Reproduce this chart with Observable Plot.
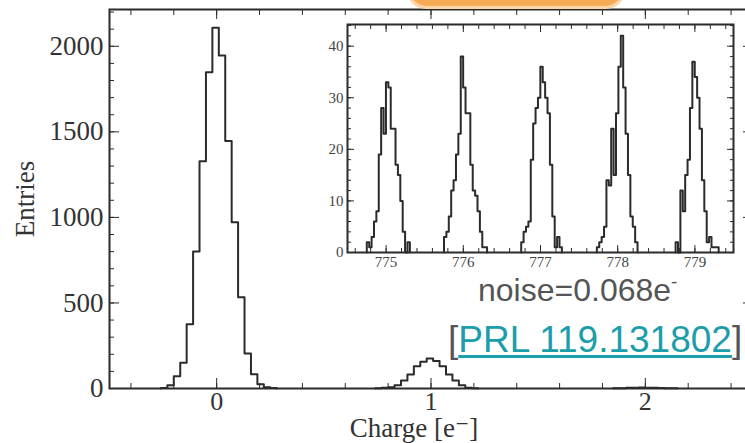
<!DOCTYPE html>
<html>
<head>
<meta charset="utf-8">
<script src="https://cdn.jsdelivr.net/npm/d3@7"></script>
<script src="https://cdn.jsdelivr.net/npm/@observablehq/plot@0.6"></script>
<style>
  html, body { margin: 0; padding: 0; background: #fff; overflow: hidden; }
  #wrap { position: relative; width: 745px; height: 443px; overflow: hidden; }
  #main, #inset { position: absolute; left: 0; top: 0; }
  #badge { position: absolute; left: 410px; top: -26px; width: 212px; height: 32px;
           border-radius: 16px; background: linear-gradient(#f39a33, #f6ae5a);
           box-shadow: 0 0 0 3px #fbd6a6; }
  .note { position: absolute; font-family: "Liberation Sans", Arial, sans-serif; white-space: nowrap; }
  #noise { left: 478px; top: 274px; font-size: 32px; line-height: 32px; color: #555; }
  #noise .sup { font-size: 19px; position: relative; top: -13px; }
  #ref { left: 448px; top: 321px; font-size: 37px; line-height: 37px; color: #555; }
  #ref a { color: #1c9dab; text-decoration: underline; text-decoration-thickness: 3px; text-underline-offset: 3px; }
</style>
</head>
<body>
<div id="wrap">
  <div id="main"></div>
  <div id="inset"></div>
  <div id="badge"></div>
  <div id="noise" class="note">noise=0.068e<span class="sup">-</span></div>
  <div id="ref" class="note">[<a>PRL 119.131802</a>]</div>
</div>
<script>
// ---------- main histogram data (bin width 0.03 e-) ----------
const mainBinWidth = 0.03;
const peak0Start = -0.26;
const peak0Counts = [3, 19, 72, 150, 375, 800, 1328, 1848, 2109, 1946, 1447, 972, 534, 204, 83, 25, 8, 3];
const peak1Start = 0.74;
const peak1Counts = [2, 4, 8, 19, 47, 82, 130, 156, 175, 160, 130, 82, 47, 19, 4, 2];
const peak2Start = 1.85;
const peak2Counts = [1, 2, 4, 5, 6, 5, 4, 3, 2, 1];

const mainXTicks = [0, 1, 2];
const mainYTicks = [0, 500, 1000, 1500, 2000];

// ---------- inset histogram data ----------
const insetBinWidth = 0.031;
const inset775Start = 774.75;
const inset775Counts = [2, 1, 3, 6, 8, 19, 28, 23, 33, 32, 24, 24, 17, 15, 10, 4, 0, 2];
const inset776Start = 775.75;
const inset776Counts = [3, 4, 7, 12, 14, 19, 23, 38, 32, 27, 27, 17, 12, 11, 8, 4, 1, 1];
const inset777Start = 776.75;
const inset777Counts = [2, 4, 5, 6, 18, 25, 28, 30, 36, 33, 30, 27, 17, 7, 1, 3, 1];
const inset778Start = 777.73;
const inset778Counts = [1, 2, 3, 5, 14, 13, 24, 15, 27, 36, 42, 32, 23, 15, 7, 5, 2];
const inset779Start = 778.75;
const inset779Counts = [2, 0, 12, 8, 15, 18, 28, 37, 34, 30, 24, 14, 8, 2, 3, 1, 1, 1];

const insetXTicks = [775, 776, 777, 778, 779];
const insetYTicks = [0, 10, 20, 30, 40];

// build step outline points from bins
function stepPoints(start, width, counts, series) {
  const pts = [{x: start, y: 0, s: series}];
  counts.forEach((c, i) => pts.push({x: start + i * width, y: c, s: series}));
  pts.push({x: start + counts.length * width, y: 0, s: series});
  return pts;
}

const mainHist = [
  ...stepPoints(peak0Start, mainBinWidth, peak0Counts, "p0"),
  ...stepPoints(peak1Start, mainBinWidth, peak1Counts, "p1"),
  ...stepPoints(peak2Start, mainBinWidth, peak2Counts, "p2")
];
const insetHist = [
  ...stepPoints(inset775Start, insetBinWidth, inset775Counts, "a"),
  ...stepPoints(inset776Start, insetBinWidth, inset776Counts, "b"),
  ...stepPoints(inset777Start, insetBinWidth, inset777Counts, "c"),
  ...stepPoints(inset778Start, insetBinWidth, inset778Counts, "d"),
  ...stepPoints(inset779Start, insetBinWidth, inset779Counts, "e")
];

const ink = "#2b2b2b";
const serif = "'Liberation Serif', 'DejaVu Serif', serif";

const mainMinorX = d3.range(-0.4, 2.45, 0.2);
const mainMinorY = d3.range(0, 2201, 100);

const main = Plot.plot({
  width: 745, height: 443,
  marginLeft: 109, marginRight: -7, marginTop: 9, marginBottom: 55,
  x: {domain: [-0.5, 2.5]},
  y: {domain: [0, 2215]},
  style: {fontFamily: serif, color: "#333", background: "transparent", overflow: "hidden"},
  marks: [
    Plot.line(mainHist, {x: "x", y: "y", z: "s", curve: "step-after", stroke: ink, strokeWidth: 2}),
    // minor ticks
    Plot.axisX({anchor: "bottom", ticks: mainMinorX, tickSize: -5, fill: "none", label: null, stroke: ink}),
    Plot.axisX({anchor: "top", ticks: mainMinorX, tickSize: -5, fill: "none", label: null, stroke: ink}),
    Plot.axisY({anchor: "left", ticks: mainMinorY, tickSize: -5, fill: "none", label: null, stroke: ink}),
    Plot.axisY({anchor: "right", ticks: mainMinorY, tickSize: -5, fill: "none", label: null, stroke: ink}),
    // major ticks
    Plot.axisX({anchor: "bottom", ticks: mainXTicks, tickSize: -10, tickPadding: 13, fontSize: 26, label: null, stroke: ink, fill: "#333", tickFormat: d => String(d)}),
    Plot.axisX({anchor: "top", ticks: mainXTicks, tickSize: -9, fill: "none", label: null, stroke: ink}),
    Plot.axisY({anchor: "left", ticks: mainYTicks, tickSize: -10, tickPadding: 16, fontSize: 27, label: null, stroke: ink, fill: "#333", tickFormat: d => String(d)}),
    Plot.axisY({anchor: "right", ticks: mainYTicks, tickSize: -10, fill: "none", label: null, stroke: ink}),
    Plot.frame({stroke: ink, strokeWidth: 2}),
    Plot.text(["Entries"], {frameAnchor: "left", textAnchor: "middle", lineAnchor: "middle", rotate: -90, dx: -84, fontSize: 27, fill: "#333"}),
    Plot.text(["Charge [e\u207B]"], {frameAnchor: "bottom", textAnchor: "middle", lineAnchor: "middle", dx: -17, dy: 40, fontSize: 27, fill: "#333"})
  ]
});
document.getElementById("main").appendChild(main);

const insetMinorX = d3.range(774.6, 779.5, 0.2);
const insetMinorY = d3.range(0, 44.1, 2);

const inset = Plot.plot({
  width: 745, height: 443,
  marginLeft: 347, marginRight: 12, marginTop: 24, marginBottom: 191,
  x: {domain: [774.5, 779.5]},
  y: {domain: [0, 44.2]},
  style: {fontFamily: serif, color: "#333", background: "transparent"},
  marks: [
    Plot.frame({fill: "white", stroke: "none"}),
    Plot.line(insetHist, {x: "x", y: "y", z: "s", curve: "step-after", stroke: ink, strokeWidth: 2}),
    Plot.axisX({anchor: "bottom", ticks: insetMinorX, tickSize: -4, fill: "none", label: null, stroke: ink}),
    Plot.axisX({anchor: "top", ticks: insetMinorX, tickSize: -4, fill: "none", label: null, stroke: ink}),
    Plot.axisY({anchor: "left", ticks: insetMinorY, tickSize: -4, fill: "none", label: null, stroke: ink}),
    Plot.axisY({anchor: "right", ticks: insetMinorY, tickSize: -4, fill: "none", label: null, stroke: ink}),
    Plot.axisX({anchor: "bottom", ticks: insetXTicks, tickSize: -7, tickPadding: 11, fontSize: 15, label: null, stroke: ink, fill: "#444", tickFormat: d => String(d)}),
    Plot.axisX({anchor: "top", ticks: insetXTicks, tickSize: -7, fill: "none", label: null, stroke: ink}),
    Plot.axisY({anchor: "left", ticks: insetYTicks, tickSize: -7, tickPadding: 11, fontSize: 15, label: null, stroke: ink, fill: "#444", tickFormat: d => String(d)}),
    Plot.axisY({anchor: "right", ticks: insetYTicks, tickSize: -7, fill: "none", label: null, stroke: ink}),
    Plot.frame({stroke: ink, strokeWidth: 2})
  ]
});
document.getElementById("inset").appendChild(inset);
</script>
</body>
</html>
